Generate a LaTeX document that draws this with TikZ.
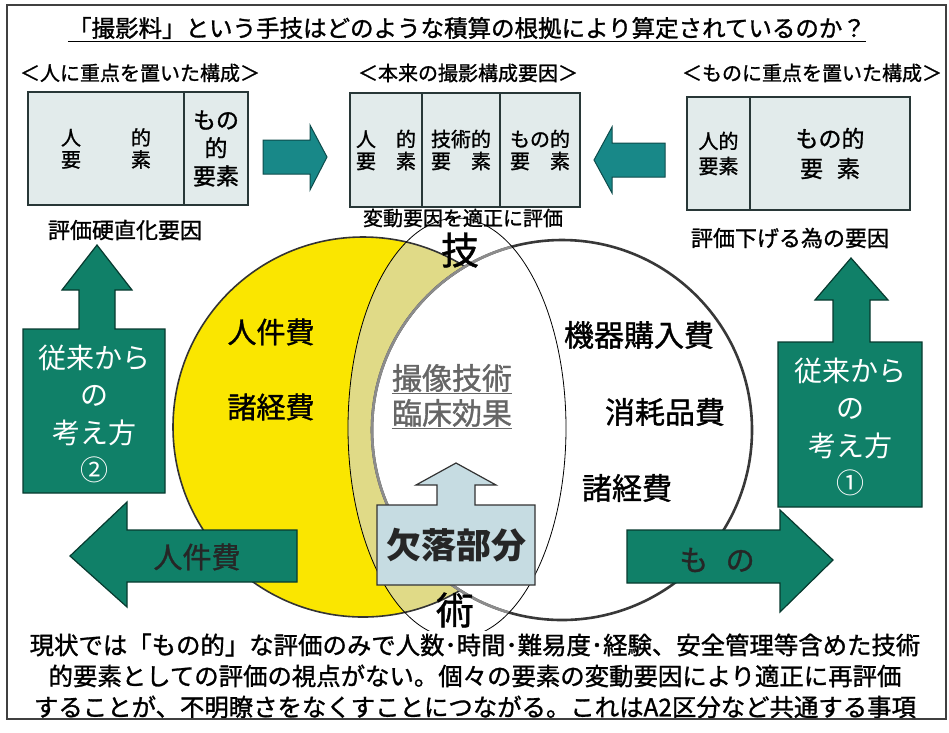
\documentclass[tikz,border=0pt]{standalone}
\usepackage{fontspec}
\setmainfont{Noto Sans CJK JP}
\newfontfamily\jpmid{Noto Sans CJK JP}[FakeBold=1.2]
\usepackage{xcolor}
\usepackage{tikz}

\definecolor{cellfill}{RGB}{226,235,235}
\definecolor{cellline}{RGB}{40,55,55}
\definecolor{tealarrow}{RGB}{24,136,136}
\definecolor{greenbox}{RGB}{16,128,104}
\definecolor{brightyellow}{RGB}{250,230,0}
\definecolor{paleyellow}{RGB}{224,218,135}
\definecolor{lightblue}{RGB}{198,220,226}
\newcommand{\jpsize}[2]{\fontsize{#1}{#2}\selectfont}

\begin{document}
\begin{tikzpicture}[x=1pt, y=-1pt,
    every node/.style={inner sep=0pt, font=\jpmid},
    cell/.style={draw=cellline, line width=2.6pt, fill=cellfill},
    toparrow/.style={fill=tealarrow, draw=tealarrow!55!black, line width=1pt},
    greenshape/.style={fill=greenbox, draw=greenbox!45!black, line width=1.2pt}]
        \useasboundingbox (0,0) rectangle (949,732);

        % title
        \node[font=\jpmid\jpsize{23.5}{24}] (title) at (467,28) {「撮影料」という手技はどのような積算の根拠により算定されているのか？};
        \draw[line width=1.2pt] ([yshift=-2pt]title.south west) -- ([yshift=-2pt]title.south east);

        \node[font=\jpmid\jpsize{20}{20}] (subL) at (140,73) {＜人に重点を置いた構成＞};
        \node[font=\jpmid\jpsize{20}{20}] (subC) at (468,73) {＜本来の撮影構成要因＞};
        \node[font=\jpmid\jpsize{20}{20}] (subR) at (812,73) {＜ものに重点を置いた構成＞};

        % three compositions
        \draw[cell] (28,92) rectangle (184,205) node[midway, align=center, font=\jpmid\jpsize{20}{22}] (L1) {人\hspace{2.5em}的\\要\hspace{2.5em}素};
        \draw[cell] (184,92) rectangle (248,205) node[midway, align=center, font=\jpmid\jpsize{23}{28}] (L2) {もの\\的\\要素};

        \draw[cell] (350,93) rectangle (422,207) node[midway, align=center, font=\jpmid\jpsize{20}{22}] (C1) {人\hspace{1em}的\\要\hspace{1em}素};
        \draw[cell] (422,93) rectangle (500,207) node[midway, align=center, font=\jpmid\jpsize{20}{22}] (C2) {技術的\\要\hspace{1em}素};
        \draw[cell] (500,93) rectangle (580,207) node[midway, align=center, font=\jpmid\jpsize{20}{22}] (C3) {もの的\\要\hspace{1em}素};

        \draw[cell] (687,97) rectangle (750,210) node[midway, align=center, font=\jpmid\jpsize{20}{25}] (R1) {人的\\要素};
        \draw[cell] (750,97) rectangle (910,210) node[midway, align=center, font=\jpmid\jpsize{23}{30}] (R2) {もの的\\要\hspace{0.6em}素};

        \draw[toparrow] (263,140) -- (310,140) -- (310,125) -- (327,157) -- (310,190) -- (310,174) -- (263,174) -- cycle;
        \draw[toparrow] (665,143) -- (612,143) -- (612,127) -- (594,160) -- (612,193) -- (612,177) -- (665,177) -- cycle;

        \node[font=\jpmid\jpsize{22}{22}] (stiff) at (125,230) {評価硬直化要因};
        \node[font=\jpmid\jpsize{22}{22}] (lower) at (790,238) {評価下げる為の要因};

        % circles and lens
        \fill[brightyellow] (363,427) circle[radius=190pt];
        \begin{scope}
            \clip (457,428) ellipse[x radius=109pt, y radius=210pt];
            \fill[paleyellow] (363,427) circle[radius=190pt];
        \end{scope}
        \draw[line width=1.6pt, black!80] (363,427) circle[radius=190pt];
        \fill[white] (562,430) circle[radius=190pt];
        \draw[line width=2.6pt, black!78] (562,430) circle[radius=190pt];
        \begin{scope}
            \clip (457,428) ellipse[x radius=109pt, y radius=210pt];
            \draw[line width=2.6pt, black!45] (562,430) circle[radius=190pt];
        \end{scope}
        \draw[line width=0.8pt] (457,428) ellipse[x radius=109pt, y radius=210pt];

        \node[font=\jpmid\jpsize{20}{20}] (vary) at (463,218) {変動要因を適正に評価};
        \node[font=\jpmid\jpsize{38}{38}] (gi) at (460,250) {技};
        \node[font=\jpmid\jpsize{38}{38}] (jutsu) at (455,610) {術};

        \node[font=\jpmid\jpsize{29}{29}] (jinL) at (271,332) {人件費};
        \node[font=\jpmid\jpsize{29}{29}] (shoL) at (271,407) {諸経費};
        \node[font=\jpmid\jpsize{30}{30}, text=black!60] (tech) at (452,378) {撮像技術};
        \node[font=\jpmid\jpsize{30}{30}, text=black!60] (clin) at (452,413) {臨床効果};
        \draw[black!60, line width=1pt] ([yshift=-1pt]tech.south west) -- ([yshift=-1pt]tech.south east);
        \draw[black!60, line width=1pt] ([yshift=-1pt]clin.south west) -- ([yshift=-1pt]clin.south east);
        \node[font=\jpmid\jpsize{30}{30}] (equip) at (639,335) {機器購入費};
        \node[font=\jpmid\jpsize{30}{30}] (cons) at (665,412) {消耗品費};
        \node[font=\jpmid\jpsize{30}{30}] (shoR) at (627,488) {諸経費};

        % conventional views
        \draw[greenshape] (23,329) -- (79,329) -- (79,290) -- (62,290) -- (97,245) -- (132,290) -- (115,290) -- (115,329) -- (165,329) -- (165,493) -- (23,493) -- cycle;
        \node[font=\jpsize{28}{37.5}, align=center, text=white] (viewL) at (94,414) {従来から\\の\\考え方\\②};
        \draw[greenshape] (778,342) -- (833,342) -- (833,300) -- (815,300) -- (851,258) -- (888,300) -- (870,300) -- (870,342) -- (922,342) -- (922,507) -- (778,507) -- cycle;
        \node[font=\jpsize{28}{37.5}, align=center, text=white] (viewR) at (850,427) {従来から\\の\\考え方\\①};

        \draw[greenshape] (297,530) -- (127,530) -- (127,502) -- (70,556) -- (127,607) -- (127,582) -- (297,582) -- cycle;
        \node[font=\jpmid\jpsize{29}{29}, text=black!85] (jinArrow) at (197,557) {人件費};
        \draw[greenshape] (627,530) -- (780,530) -- (780,510) -- (833,560) -- (780,612) -- (780,583) -- (627,583) -- cycle;
        \node[font=\jpmid\jpsize{29}{29}, text=black!85] (monoArrow) at (717,560) {も\hspace{0.6em}の};

        % missing part
        \draw[fill=lightblue, draw=black!80, line width=1.2pt] (377,505) -- (437,505) -- (437,485) -- (416,485) -- (456,463) -- (496,485) -- (475,485) -- (475,505) -- (535,505) -- (535,585) -- (377,585) -- cycle;
        \node[font=\jpsize{35}{35}\bfseries, text=black!85] (missing) at (456,545) {欠落部分};

        % summary
        \node[font=\jpmid\jpsize{24.4}{31}, align=center, fill=white, inner ysep=3pt] (summary) at (475,676) {現状では「もの的」な評価のみで人数･時間･難易度･経験、安全管理等含めた技術\\的要素としての評価の視点がない。個々の要素の変動要因により適正に再評価\\することが、不明瞭さをなくすことにつながる。これはA2区分など共通する事項};

        \draw[line width=2pt, black!75] (7,5) rectangle (946,719);
    \end{tikzpicture}
\end{document}
